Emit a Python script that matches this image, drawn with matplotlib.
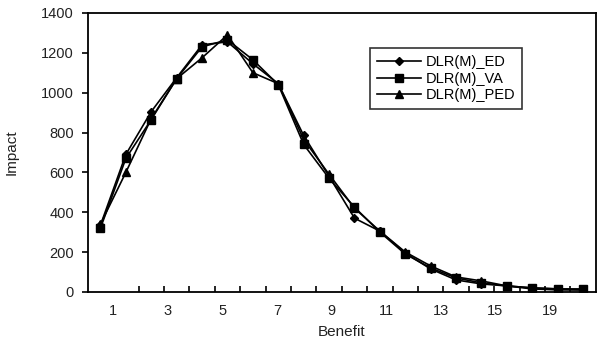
import numpy as np
from matplotlib import pyplot as plt

plt.rcParams["font.family"] = ["Liberation Sans", "DejaVu Sans"]

# Data (20 categories)
ed = [335, 690, 905, 1075, 1240, 1255, 1145, 1045, 785, 580,
      370, 305, 195, 115, 60, 40, 30, 15, 10, 10]
va = [320, 670, 865, 1070, 1230, 1265, 1165, 1040, 740, 570,
      425, 300, 190, 120, 70, 45, 30, 20, 15, 15]
ped = [340, 600, 870, 1070, 1175, 1290, 1100, 1045, 765, 590,
       420, 305, 200, 130, 75, 55, 30, 20, 15, 10]
xlabels = ["1", "3", "5", "7", "9", "11", "13", "15", "19"]
yticks = [0, 200, 400, 600, 800, 1000, 1200, 1400]

x = np.arange(len(ed))

fig = plt.figure(figsize=(5.97, 3.5), dpi=100)
ax = fig.add_axes([0.147, 0.166, 0.851, 0.797])

ax.plot(x, ed, color="black", lw=1.2, marker="D", ms=4, label="DLR(M)_ED")
ax.plot(x, va, color="black", lw=1.2, marker="s", ms=6, label="DLR(M)_VA")
ax.plot(x, ped, color="black", lw=1.2, marker="^", ms=6, label="DLR(M)_PED")

ax.set_xlim(-0.5, len(ed) - 0.5)
ax.set_ylim(0, 1400)
ax.set_yticks(yticks)

# category ticks sit between points; labels are spread along the axis
ax.set_xticks(np.arange(len(ed) - 1) + 0.5, minor=True)
ax.set_xticks(np.linspace(0.5, 17.7, len(xlabels)))
ax.set_xticklabels(xlabels)
ax.tick_params(axis="x", which="major", length=0, pad=9, labelsize=10.5, colors="#222222")
ax.tick_params(axis="x", which="minor", direction="in", length=4, width=1.2)
ax.tick_params(axis="y", direction="out", length=4, width=1.2, labelsize=10.5,
               pad=6, colors="#222222")
ax.tick_params(axis="both", which="both", color="black")

for s in ax.spines.values():
    s.set_linewidth(1.3)

ax.set_xlabel("Benefit", fontsize=11, color="#222222", labelpad=5)
ax.set_ylabel("Impact", fontsize=11, color="#222222", labelpad=16)

leg = ax.legend(loc="upper right", bbox_to_anchor=(0.87, 0.9), fontsize=10.5,
                frameon=True, fancybox=False, handlelength=3.0,
                borderpad=0.5, labelspacing=0.15, handletextpad=0.3)
leg.get_frame().set_edgecolor("black")
leg.get_frame().set_linewidth(1.2)

plt.savefig("out.png", dpi=100)
